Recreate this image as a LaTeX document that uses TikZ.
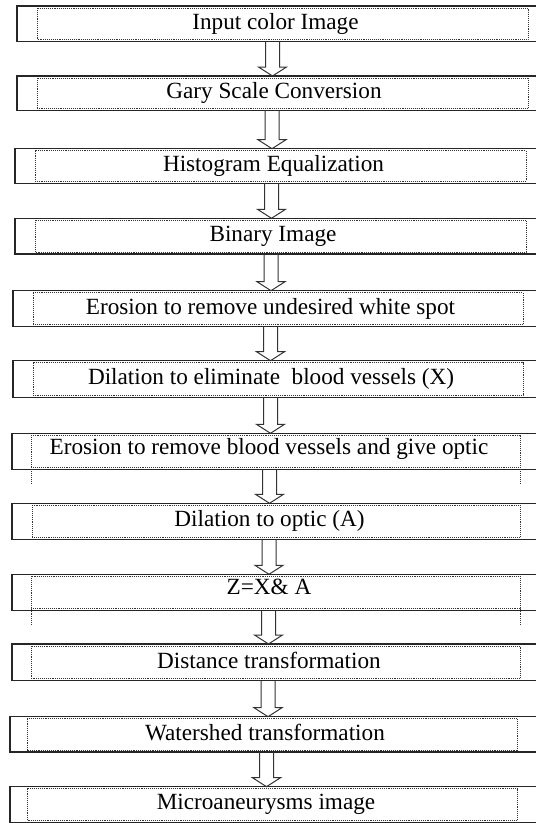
\documentclass[tikz,border=0pt]{standalone}
\usepackage{fontspec}
\setmainfont{Liberation Serif}
\usetikzlibrary{calc}
\tikzset{
  outerbox/.style={draw=black!85, line width=1.3pt},
  innerbox/.style={draw=black!80, line width=1pt, dash pattern=on 1pt off 0.9pt},
  boxtext/.style={font=\fontsize{23.2}{27}\selectfont, anchor=base, inner sep=0pt, text=black},
  hollowarrow/.style={draw=black!80, line width=1pt, line join=miter},
}
\newcommand\flowbox[9]{%
  \draw[outerbox] ({#4pt},{-#2pt}) rectangle (560pt,{-#3pt});
  \draw[innerbox] ({#5pt},{-#2pt-2pt}) rectangle ({#6pt},{-#3pt+2pt});
  \node[boxtext] (#1) at ({#7pt},{-(#2pt+#3pt)/2-#8pt}) {#9};
  \coordinate (#1-top) at ({#7pt},{-#2pt});
  \coordinate (#1-bot) at ({#7pt},{-#3pt});
}
\newcommand\blockarrow[3]{%
  \draw[hollowarrow] let \p1=(#1-bot), \p2=(#2-top) in
    ({#3pt-7pt},\y1) -- ({#3pt-7pt},{\y2+9pt}) -- ({#3pt-14pt},{\y2+9pt}) --
    ({#3pt},\y2) -- ({#3pt+14pt},{\y2+9pt}) -- ({#3pt+7pt},{\y2+9pt}) -- ({#3pt+7pt},\y1);
}
\begin{document}
\begin{tikzpicture}
\useasboundingbox (0,0) rectangle (536pt,-823pt);
\fill[white] (0,0) rectangle (536pt,-823pt);
\clip (0,0) rectangle (536pt,-823pt);

\flowbox{b1}{6}{41.7}{17}{37}{528}{275.5}{5.5}{Input color Image}
\flowbox{b2}{76}{110.7}{17}{37}{528}{274}{5.5}{Gary Scale Conversion}
\flowbox{b3}{148.7}{183.3}{15}{35}{526}{273.5}{5.5}{Histogram Equalization}
\flowbox{b4}{218.3}{254}{15}{35}{526}{273}{5.5}{Binary Image}
\flowbox{b5}{290.7}{326.7}{13}{33}{523}{270.5}{5.5}{Erosion to remove undesired white spot}
\flowbox{b6}{360.7}{397.3}{13}{33}{523}{271}{5.5}{Dilation to eliminate\ \ blood vessels (X)}
\flowbox{b7}{433.3}{469.3}{12}{31}{520}{269}{2.7}{Erosion to remove blood vessels and give optic}
\flowbox{b8}{503.3}{539.3}{12}{32}{520}{269.5}{5.5}{Dilation to optic (A)}
\flowbox{b9}{574.3}{610.7}{12}{31}{520}{269}{1.8}{Z=X\& A}
\flowbox{b10}{644}{680.7}{12}{31}{520}{269}{6}{Distance transformation}
\flowbox{b11}{716.7}{752}{10}{27}{517}{265}{5.7}{Watershed transformation}
\flowbox{b12}{786.7}{822.5}{10}{27}{517}{266}{5.3}{Microaneurysms image}

% dotted side extensions below boxes 7 and 9
\draw[innerbox] (31pt,-467.3pt) -- (31pt,-483pt);
\draw[innerbox] (520pt,-467.3pt) -- (520pt,-483pt);
\draw[innerbox] (31pt,-608.7pt) -- (31pt,-624pt);
\draw[innerbox] (520pt,-608.7pt) -- (520pt,-624pt);

\blockarrow{b1}{b2}{272.5}
\blockarrow{b2}{b3}{272}
\blockarrow{b3}{b4}{271.5}
\blockarrow{b4}{b5}{271}
\blockarrow{b5}{b6}{270.5}
\blockarrow{b6}{b7}{270.5}
\blockarrow{b7}{b8}{269.5}
\blockarrow{b8}{b9}{269}
\blockarrow{b9}{b10}{268.5}
\blockarrow{b10}{b11}{268}
\blockarrow{b11}{b12}{266.5}
\end{tikzpicture}
\end{document}
